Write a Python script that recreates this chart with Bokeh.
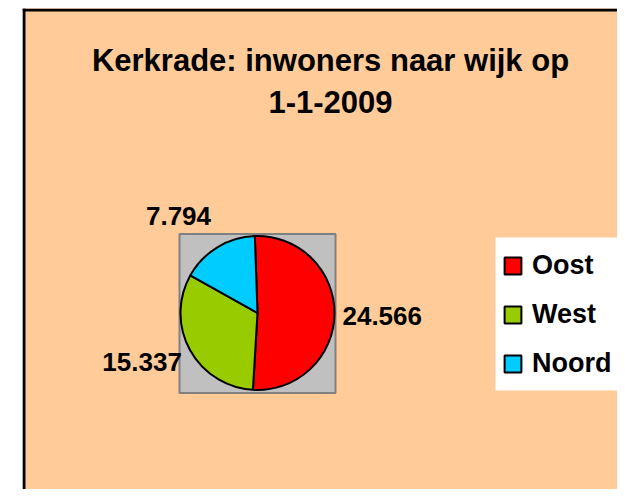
import math
from bokeh.plotting import figure
from bokeh.models import Range1d, Legend, LegendItem, ColumnDataSource
from bokeh.core.properties import value
from bokeh.embed import file_html
from bokeh.resources import INLINE

# ---- data ----
title_lines = ["Kerkrade: inwoners naar wijk op", "1-1-2009"]
wijken = ["Oost", "West", "Noord"]
inwoners = [24566, 15337, 7794]
labels = ["24.566", "15.337", "7.794"]
colors = ["#FF0000", "#99CC00", "#00CCFF"]

FONT = "Liberation Sans"
W, H = 617, 489
LEFT, TOP = 22, 8
FW, FH = W - LEFT, H - TOP

p = figure(width=W, height=H, output_backend="svg", toolbar_location=None,
           x_range=Range1d(0, FW), y_range=Range1d(0, FH),
           min_border_left=LEFT, min_border_right=0, min_border_top=TOP, min_border_bottom=0)
p.axis.visible = False
p.grid.visible = False
p.background_fill_color = "#FFCC99"
p.border_fill_color = "white"
p.outline_line_color = None

# picture coords -> data coords (layout only)
def px(X):
    return X - LEFT
def py(Y):
    return H - Y

# chart-area border (left & top visible)
p.quad(left=[0, 0], right=[3, FW + 20], bottom=[0, FH - 3], top=[FH, FH],
       fill_color="black", line_color=None)

# title
p.text(x=[px(330), px(330)], y=[py(60), py(101.5)], text=title_lines,
       text_align="center", text_baseline="alphabetic",
       text_font=value(FONT), text_font_style="bold", text_font_size="31px",
       text_color="black")

# plot area box
cx, cy, r = px(257), py(312.5), 77
p.rect(x=[cx], y=[py(313)], width=156, height=159, fill_color="#C0C0C0",
       line_color="#808080", line_width=2)

# wedges (clockwise from slightly left of top)
total = sum(inwoners)
start0 = math.radians(92)
starts, ends, mids = [], [], []
a = start0
for v in inwoners:
    sweep = 2 * math.pi * v / total
    starts.append(a)
    ends.append(a - sweep)
    mids.append(a - sweep / 2)
    a -= sweep
src = ColumnDataSource(dict(start=starts, end=ends, color=colors, name=wijken))
wr = p.wedge(x=cx, y=cy, radius=r, start_angle="start", end_angle="end",
             direction="clock", fill_color="color", line_color="black",
             line_width=2, source=src)

# data labels placed outside along mid-angle
nudge = [(0, -1), (-6, 11), (-14, -9)]
lx = [cx + 1.62 * r * math.cos(m) + d[0] for m, d in zip(mids, nudge)]
ly = [cy + 1.62 * r * math.sin(m) + d[1] for m, d in zip(mids, nudge)]
p.text(x=lx, y=ly, text=labels, text_align="center", text_baseline="middle",
       text_font=value(FONT), text_font_style="bold", text_font_size="26px",
       text_color="black")

# legend box
p.quad(left=[px(495)], right=[px(640)], top=[py(237)], bottom=[py(390)],
       fill_color="white", line_color=None)

# legend
items = [LegendItem(label=wijken[i], renderers=[wr], index=i) for i in range(len(wijken))]
legend = Legend(items=items, location=(480, H - 379),
                label_text_font=FONT, label_text_font_style="bold",
                label_text_font_size="27px", label_text_color="black",
                glyph_width=21, glyph_height=21, label_standoff=9,
                label_height=30, label_width=100, spacing=18, padding=12, margin=0,
                background_fill_alpha=0.0, border_line_color=None)
p.add_layout(legend)

open("out.html", "w").write(file_html(p, INLINE))
